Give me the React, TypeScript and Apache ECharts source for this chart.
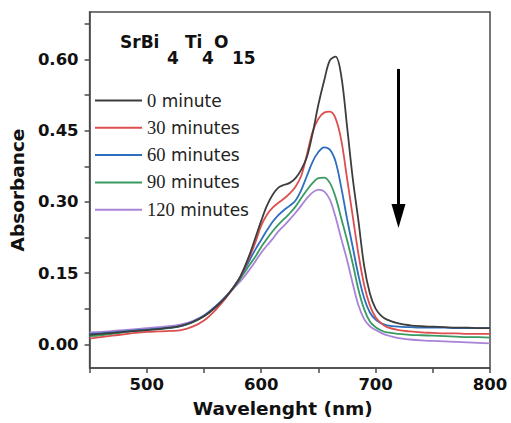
import React, { useEffect, useRef } from "react";
import * as echarts from "echarts";

const WAVELENGTHS = [
  450, 460, 470, 480, 490, 500, 510, 520, 530, 540, 550, 560, 570, 580,
  585, 590, 595, 600, 605, 610, 615, 620, 625, 630, 635, 640, 645, 650, 655, 660, 665, 670, 675, 680, 685, 690, 695, 700, 705, 710,
  720, 730, 740, 750, 760, 770, 780, 790, 800,
];

const A_0 = [
  0.020, 0.022, 0.024, 0.026, 0.028, 0.030, 0.032, 0.035, 0.039, 0.047, 0.059, 0.078, 0.102, 0.135,
  0.160, 0.190, 0.225, 0.260, 0.292, 0.315, 0.330, 0.336, 0.340, 0.350, 0.368, 0.395, 0.445, 0.505, 0.555, 0.598, 0.606, 0.565, 0.460, 0.350, 0.260, 0.165, 0.107, 0.075, 0.060, 0.052,
  0.044, 0.040, 0.038, 0.037, 0.036, 0.035, 0.035, 0.034, 0.034,
];
const A_30 = [
  0.012, 0.015, 0.018, 0.021, 0.024, 0.026, 0.027, 0.028, 0.030, 0.037, 0.050, 0.072, 0.100, 0.135,
  0.158, 0.185, 0.215, 0.250, 0.273, 0.288, 0.298, 0.307, 0.318, 0.332, 0.355, 0.400, 0.448, 0.475, 0.488, 0.490, 0.476, 0.430, 0.350, 0.270, 0.190, 0.125, 0.082, 0.057, 0.044, 0.036,
  0.030, 0.027, 0.025, 0.024, 0.023, 0.023, 0.022, 0.022, 0.022,
];
const A_60 = [
  0.022, 0.023, 0.025, 0.027, 0.029, 0.031, 0.033, 0.035, 0.039, 0.047, 0.060, 0.079, 0.103, 0.135,
  0.155, 0.178, 0.200, 0.220, 0.240, 0.258, 0.272, 0.283, 0.292, 0.303, 0.325, 0.355, 0.385, 0.405, 0.415, 0.410, 0.385, 0.330, 0.265, 0.205, 0.145, 0.097, 0.067, 0.052, 0.044, 0.040,
  0.037, 0.036, 0.035, 0.035, 0.035, 0.034, 0.034, 0.034, 0.034,
];
const A_90 = [
  0.017, 0.019, 0.022, 0.025, 0.028, 0.030, 0.032, 0.034, 0.038, 0.046, 0.059, 0.078, 0.102, 0.132,
  0.150, 0.168, 0.185, 0.205, 0.222, 0.238, 0.252, 0.264, 0.276, 0.290, 0.308, 0.325, 0.340, 0.350, 0.351, 0.340, 0.310, 0.265, 0.220, 0.170, 0.115, 0.074, 0.048, 0.036, 0.029, 0.025,
  0.022, 0.020, 0.019, 0.018, 0.017, 0.016, 0.015, 0.015, 0.014,
];
const A_120 = [
  0.025, 0.026, 0.028, 0.030, 0.032, 0.034, 0.036, 0.038, 0.042, 0.049, 0.061, 0.080, 0.103, 0.128,
  0.142, 0.158, 0.175, 0.193, 0.208, 0.222, 0.238, 0.250, 0.263, 0.277, 0.292, 0.308, 0.320, 0.326, 0.322, 0.305, 0.268, 0.222, 0.178, 0.128, 0.082, 0.053, 0.038, 0.030, 0.024, 0.019,
  0.013, 0.010, 0.008, 0.007, 0.006, 0.005, 0.004, 0.003, 0.002,
];

const SERIES_NAMES = ["0 minute", "30 minutes", "60 minutes", "90 minutes", "120 minutes"];
const SERIES_VALUES = [A_0, A_30, A_60, A_90, A_120];
const SERIES_COLORS = ["#3d3d3d", "#dd4f4f", "#2d6fbf", "#3a9a62", "#a883d8"];

const Y_LABEL_TICKS = [0, 0.15, 0.3, 0.45, 0.6];
const Y_ALL_TICKS = [0, 0.075, 0.15, 0.225, 0.3, 0.375, 0.45, 0.525, 0.6, 0.675];
const X_LABEL_TICKS = [500, 600, 700, 800];
const X_ALL_TICKS = [450, 500, 550, 600, 650, 700, 750, 800];

const ARROW_X = 720;
const ARROW_FROM = 0.58;
const ARROW_TO = 0.245;

const FORMULA = [
  { t: "SrBi", sub: false },
  { t: "4", sub: true },
  { t: "Ti", sub: false },
  { t: "4", sub: true },
  { t: "O", sub: false },
  { t: "15", sub: true },
];
const FORMULA_X = [120, 167, 185, 202, 214, 232];

export default function App() {
  const ref = useRef<HTMLDivElement>(null);
  useEffect(() => {
    if (!ref.current) return;
    const chart = echarts.init(ref.current, null, { renderer: "svg" });
    const axisColor = "#4a4a4a";
    const labelFont = { fontFamily: "DejaVu Sans", fontWeight: "bold" as const, fontSize: 16.5, color: "#111" };
    const option: any = {
      animation: false,
      backgroundColor: "#fff",
      grid: { left: 89, right: 21, top: 12, bottom: 55, show: true, borderColor: axisColor, borderWidth: 1.5, backgroundColor: "transparent" },
      legend: {
        orient: "vertical",
        left: 95,
        top: 91,
        padding: 0,
        icon: "rect",
        itemWidth: 47,
        itemHeight: 2,
        itemGap: 8.3,
        data: SERIES_NAMES,
        formatter: (name: string) => {
          const i = name.indexOf(" ");
          return `{n|${name.slice(0, i)}}{w|${name.slice(i)}}`;
        },
        textStyle: {
          padding: [0, 0, 0, 0],
          rich: {
            n: { fontFamily: "Liberation Serif", fontSize: 18.5, color: "#222", lineHeight: 20 },
            w: { fontFamily: "DejaVu Sans", fontSize: 17, color: "#222", lineHeight: 20 },
          },
        },
      },
      xAxis: {
        type: "value",
        min: 450,
        max: 800,
        name: "Wavelenght (nm)",
        nameLocation: "middle",
        nameGap: 31,
        nameTextStyle: { fontFamily: "DejaVu Sans", fontWeight: "bold", fontSize: 18.5, color: "#111", padding: [0, 14, 0, 0] },
        splitLine: { show: false },
        axisLine: { show: true, onZero: false, lineStyle: { color: axisColor, width: 1.5 } },
        axisTick: { show: true, inside: false, length: 5, customValues: X_ALL_TICKS, lineStyle: { color: axisColor, width: 1.5 } },
        axisLabel: { ...labelFont, margin: 8, customValues: X_LABEL_TICKS, formatter: (v: number) => String(v) },
      },
      yAxis: {
        type: "value",
        min: -0.05,
        max: 0.7,
        name: "Absorbance",
        nameLocation: "middle",
        nameGap: 57,
        nameTextStyle: { fontFamily: "DejaVu Sans", fontWeight: "bold", fontSize: 18.5, color: "#111" },
        splitLine: { show: false },
        axisLine: { show: true, onZero: false, lineStyle: { color: axisColor, width: 1.5 } },
        axisTick: { show: true, inside: false, length: 5, customValues: Y_ALL_TICKS, lineStyle: { color: axisColor, width: 1.5 } },
        axisLabel: { ...labelFont, margin: 11, customValues: Y_LABEL_TICKS, formatter: (v: number) => v.toFixed(2) },
      },
      series: SERIES_NAMES.map((name, k) => ({
        name,
        type: "line",
        data: WAVELENGTHS.map((w, i) => [w, SERIES_VALUES[k][i]]),
        smooth: 0.35,
        symbol: "none",
        color: SERIES_COLORS[k],
        lineStyle: { width: 1.8, color: SERIES_COLORS[k] },
        z: 10 - k,
      })),
    };
    chart.setOption(option);

    const pTop = chart.convertToPixel({ gridIndex: 0 }, [ARROW_X, ARROW_FROM]) as number[];
    const pTip = chart.convertToPixel({ gridIndex: 0 }, [ARROW_X, ARROW_TO]) as number[];
    const headLen = 24;
    const headHalf = 7;
    const elements: any[] = FORMULA.map((f, i) => ({
      type: "text",
      x: FORMULA_X[i],
      y: f.sub ? 66 : 50,
      style: {
        text: f.t,
        fontFamily: "DejaVu Sans",
        fontWeight: "bold",
        fontSize: 17,
        fill: "#111",
        textAlign: "left",
        textVerticalAlign: "bottom",
      },
      z: 20,
    }));
    elements.push({
      type: "line",
      shape: { x1: pTop[0], y1: pTop[1], x2: pTip[0], y2: pTip[1] - headLen + 2 },
      style: { stroke: "#000", lineWidth: 3 },
      z: 20,
    });
    elements.push({
      type: "polygon",
      shape: {
        points: [
          [pTip[0] - headHalf, pTip[1] - headLen],
          [pTip[0] + headHalf, pTip[1] - headLen],
          [pTip[0], pTip[1]],
        ],
      },
      style: { fill: "#000" },
      z: 20,
    });
    chart.setOption({ graphic: { elements } });

    return () => chart.dispose();
  }, []);
  return <div ref={ref} style={{ position: "fixed", left: 0, top: 0, width: 511, height: 423 }} />;
}
